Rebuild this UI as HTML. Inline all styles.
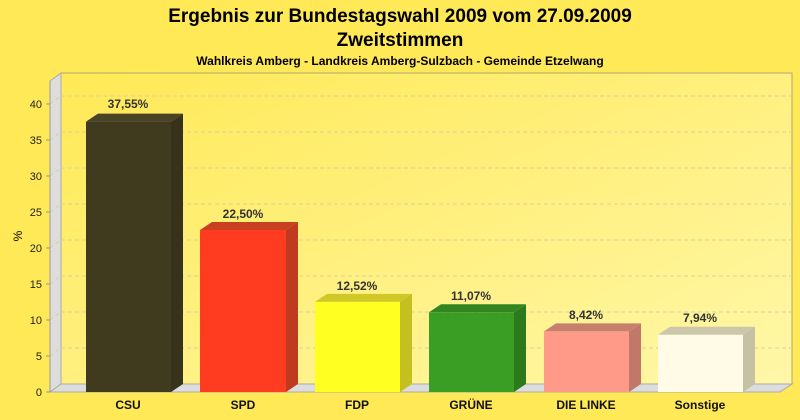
<!DOCTYPE html>
<html><head><meta charset="utf-8"><style>
html,body{margin:0;padding:0;background:#FFE956;}
svg{display:block;font-family:"Liberation Sans",sans-serif;}
</style></head><body>
<svg width="800" height="420" viewBox="0 0 800 420">
<defs>
<linearGradient id="bg" x1="0" y1="0" x2="1" y2="1">
<stop offset="0" stop-color="#FFE956"/><stop offset="1" stop-color="#FFF7A8"/>
</linearGradient>
</defs>
<rect width="800" height="420" fill="#FFE956"/>
<text x="400" y="22" text-anchor="middle" font-size="19" font-weight="bold">Ergebnis zur Bundestagswahl 2009 vom 27.09.2009</text>
<text x="400" y="46" text-anchor="middle" font-size="19" font-weight="bold">Zweitstimmen</text>
<text x="400" y="65" text-anchor="middle" font-size="12" font-weight="bold">Wahlkreis Amberg - Landkreis Amberg-Sulzbach - Gemeinde Etzelwang</text>
<!-- back wall -->
<rect x="61" y="73" width="731" height="311" fill="url(#bg)" stroke="#b0a870" stroke-width="1"/>
<!-- left wall -->
<polygon points="50,81 61,73 61,384 50,392" fill="#DDDDDD" stroke="#aaa" stroke-width="1"/>
<!-- floor -->
<polygon points="50,392 61,384 792,384 780,392" fill="#DDDDDD" stroke="#aaa" stroke-width="1"/>
<g stroke="#d8d0a0" stroke-dasharray="4,3" stroke-width="1" fill="none">
<path d="M61,348 H792 M61,312 H792 M61,276 H792 M61,240 H792 M61,204 H792 M61,168 H792 M61,132 H792 M61,96 H792"/>
<path d="M50,356 L61,348 M50,320 L61,312 M50,284 L61,276 M50,248 L61,240 M50,212 L61,204 M50,176 L61,168 M50,140 L61,132 M50,104 L61,96"/>
</g>
<line x1="50" y1="81" x2="50" y2="392" stroke="#999"/>
<g font-size="11" text-anchor="end" fill="#222">
<text x="42" y="396">0</text><text x="42" y="360">5</text><text x="42" y="324">10</text><text x="42" y="288">15</text><text x="42" y="252">20</text><text x="42" y="216">25</text><text x="42" y="180">30</text><text x="42" y="144">35</text><text x="42" y="108">40</text>
</g>
<g stroke="#999"><path d="M46,392H50M46,356H50M46,320H50M46,284H50M46,248H50M46,212H50M46,176H50M46,140H50M46,104H50"/></g>
<text x="22" y="236" font-size="12" transform="rotate(-90 22 236)" text-anchor="middle">%</text>
<g font-size="12" font-weight="bold" fill="#333" text-anchor="middle">
<!-- CSU -->
<polygon points="171,121.6 183,113.6 183,384 171,392" fill="#37321a"/>
<polygon points="86,121.6 98,113.6 183,113.6 171,121.6" fill="#4a4325"/>
<rect x="86" y="121.6" width="85" height="270.4" fill="#403a1e"/>
<text x="128" y="108">37,55%</text>
<!-- SPD -->
<polygon points="286,230 298,222 298,384 286,392" fill="#c03a20"/>
<polygon points="200,230 212,222 298,222 286,230" fill="#c8401f"/>
<rect x="200" y="230" width="86" height="162" fill="#ff3c1f"/>
<text x="243" y="218">22,50%</text>
<!-- FDP -->
<polygon points="400,301.9 412,293.9 412,384 400,392" fill="#c4c020"/>
<polygon points="315,301.9 327,293.9 412,293.9 400,301.9" fill="#cfc826"/>
<rect x="315" y="301.9" width="85" height="90.1" fill="#ffff22"/>
<text x="357" y="290">12,52%</text>
<!-- GRUENE -->
<polygon points="514,312.3 526,304.3 526,384 514,392" fill="#2c7a1c"/>
<polygon points="429,312.3 441,304.3 526,304.3 514,312.3" fill="#338520"/>
<rect x="429" y="312.3" width="85" height="79.7" fill="#3a9e25"/>
<text x="471" y="300">11,07%</text>
<!-- LINKE -->
<polygon points="629,331.4 641,323.4 641,384 629,392" fill="#c07868"/>
<polygon points="544,331.4 556,323.4 641,323.4 629,331.4" fill="#c8806e"/>
<rect x="544" y="331.4" width="85" height="60.6" fill="#ff9a88"/>
<text x="586" y="319">8,42%</text>
<!-- Sonstige -->
<polygon points="743,334.8 755,326.8 755,384 743,392" fill="#c6c0a4"/>
<polygon points="658,334.8 670,326.8 755,326.8 743,334.8" fill="#ccc6aa"/>
<rect x="658" y="334.8" width="85" height="57.2" fill="#fffbe6"/>
<text x="700" y="322">7,94%</text>
</g>
<g font-size="12" font-weight="bold" fill="#111" text-anchor="middle">
<text x="128" y="409">CSU</text><text x="243" y="409">SPD</text><text x="357" y="409">FDP</text><text x="471" y="409">GRÜNE</text><text x="586" y="409">DIE LINKE</text><text x="700" y="409">Sonstige</text>
</g>
</svg>
</body></html>
